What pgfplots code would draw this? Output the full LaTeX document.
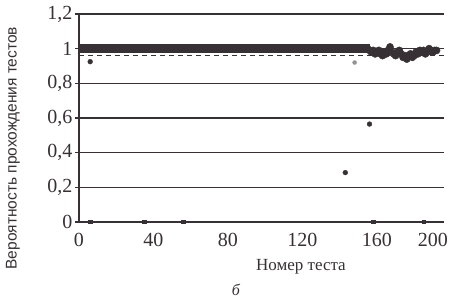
\documentclass[border=0pt]{standalone}
\usepackage{pgfplots}
\pgfplotsset{compat=1.18}
\usepackage{fontspec}
\setmainfont{Liberation Serif}
\newfontfamily\labsans{Liberation Sans}
\definecolor{ink}{RGB}{55,48,52}
\definecolor{lightdot}{RGB}{150,145,148}
\begin{document}
\begin{tikzpicture}
\path[use as bounding box] (-79bp,-81bp) rectangle (380bp,222bp);
\begin{axis}[
  at={(0,0)}, anchor=south west,
  scale only axis, width=365bp, height=208bp,
  xmin=0, xmax=196, ymin=0, ymax=1.2,
  axis x line*=bottom, axis y line*=left,
  axis line style={ink, line width=1.4bp, -},
  xtick={0,40,80,120,160,190},
  xticklabels={0,40,80,120,160,200},
  ytick={0,0.2,0.4,0.6,0.8,1,1.2},
  /pgf/number format/assume math mode=true,
  /pgf/number format/use comma,
  ymajorgrids, grid style={ink, line width=1.2bp},
  major x tick style={draw=none},
  major y tick style={ink, line width=1.2bp},
  tick align=outside, major tick length=4bp,
  tick label style={font=\fontsize{20bp}{23bp}\selectfont, text=ink},
  yticklabel style={xshift=1bp},
  xticklabel style={yshift=-4bp},
  xlabel={Номер теста},
  xlabel style={font=\fontsize{17bp}{20bp}\selectfont, text=ink, at={(axis description cs:0.608,-0.215)}, anchor=center},
  ylabel={Вероятность прохождения тестов},
  ylabel style={font=\labsans\fontsize{15.5bp}{18bp}\selectfont, text=ink, at={(axis description cs:-0.181,0.355)}, anchor=center},
  clip=false,
]
% dashed reference line
\addplot[ink, line width=1.4bp, dash pattern=on 5bp off 4bp] coordinates {(0,0.962) (196,0.962)};
% band of tests passed with probability 1 (dense points merging into a band)
\addplot[ink, line width=8.6bp, line cap=butt, mark=none] coordinates {
(0,1)(1,1)(2,1)(3,1)(4,1)(5,1)(6,1)(7,1)(8,1)(9,1)(10,1)(11,1)(12,1)(13,1)(14,1)(15,1)(16,1)(17,1)(18,1)(19,1)(20,1)
(21,1)(22,1)(23,1)(24,1)(25,1)(26,1)(27,1)(28,1)(29,1)(30,1)(31,1)(32,1)(33,1)(34,1)(35,1)(36,1)(37,1)(38,1)(39,1)(40,1)
(41,1)(42,1)(43,1)(44,1)(45,1)(46,1)(47,1)(48,1)(49,1)(50,1)(51,1)(52,1)(53,1)(54,1)(55,1)(56,1)(57,1)(58,1)(59,1)(60,1)
(61,1)(62,1)(63,1)(64,1)(65,1)(66,1)(67,1)(68,1)(69,1)(70,1)(71,1)(72,1)(73,1)(74,1)(75,1)(76,1)(77,1)(78,1)(79,1)(80,1)
(81,1)(82,1)(83,1)(84,1)(85,1)(86,1)(87,1)(88,1)(89,1)(90,1)(91,1)(92,1)(93,1)(94,1)(95,1)(96,1)(97,1)(98,1)(99,1)(100,1)
(101,1)(102,1)(103,1)(104,1)(105,1)(106,1)(107,1)(108,1)(109,1)(110,1)(111,1)(112,1)(113,1)(114,1)(115,1)(116,1)(117,1)(118,1)(119,1)(120,1)
(121,1)(122,1)(123,1)(124,1)(125,1)(126,1)(127,1)(128,1)(129,1)(130,1)(131,1)(132,1)(133,1)(134,1)(135,1)(136,1)(137,1)(138,1)(139,1)(140,1)
(141,1)(142,1)(143,1)(144,1)(145,1)(146,1)(147,1)(148,1)(149,1)(150,1)(151,1)(152,1)(153,1)(154,1)(156,1)
};
% scattered cluster after test 155
\addplot[only marks, mark=*, mark size=3.6bp, color=ink, mark options={draw=none, fill=ink}] coordinates {
(155,1.0)(156,0.99)(157,0.98)(158,0.99)(159,0.97)(160,0.98)(161,0.99)(162,0.97)(163,0.96)(164,0.98)
(165,0.97)(166,0.99)(167,1.01)(168,0.98)(169,0.97)(170,0.96)(171,0.98)(172,0.99)(173,0.97)(174,0.95)
(175,0.96)(176,0.94)(177,0.96)(178,0.97)(179,0.95)(180,0.96)(181,0.98)(182,0.97)(183,0.99)(184,0.98)
(185,0.99)(186,0.97)(187,0.98)(188,1.0)(189,0.99)(190,0.98)(191,0.99)(192,0.99)
};
% outliers
\addplot[only marks, mark=*, mark size=2.4bp, color=ink] coordinates {(6,0.925) (143,0.285) (156,0.565)};
\addplot[only marks, mark=*, mark size=2bp, color=lightdot] coordinates {(148,0.92)};
% tests at zero
\addplot[only marks, mark=square*, mark size=1.6bp, color=ink] coordinates {(6,0) (35,0) (56,0) (158,0) (185,0)};
\node[font=\itshape\fontsize{16bp}{18bp}\selectfont, text=ink] at (axis description cs:0.43,-0.327) {б};
\end{axis}
\end{tikzpicture}
\end{document}
